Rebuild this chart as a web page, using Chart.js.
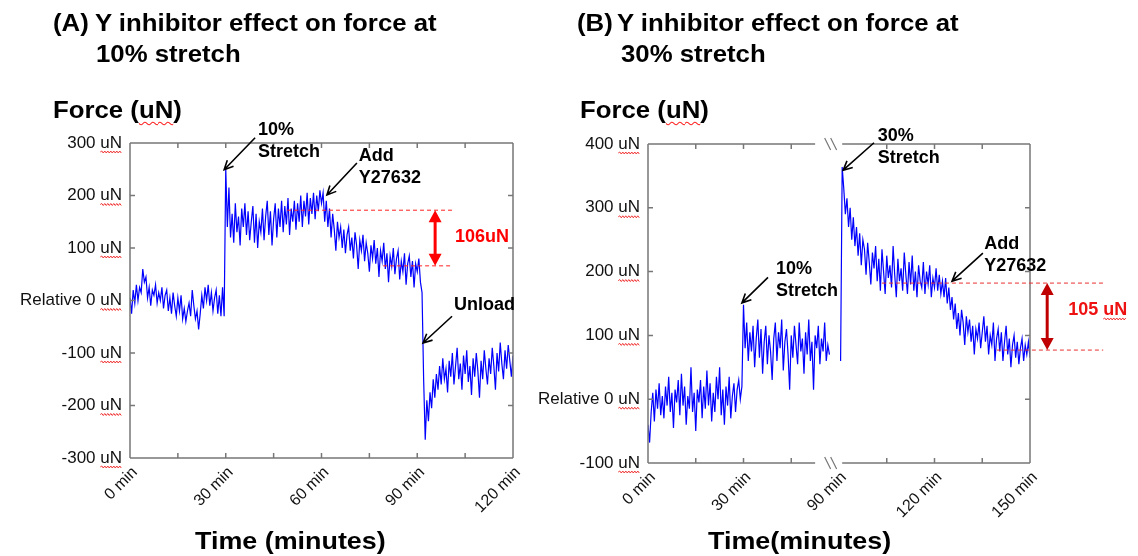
<!DOCTYPE html>
<html>
<head>
<meta charset="utf-8">
<script src="https://cdn.jsdelivr.net/npm/chart.js@4.4.0/dist/chart.umd.min.js"></script>
<style>
  body { margin: 0; background: #fff; }
  #page { position: relative; width: 1138px; height: 556px; overflow: hidden; font-family: "Liberation Sans", Arial, sans-serif; }
  canvas { position: absolute; top: 0; }
  .lbl { position: absolute; font-weight: bold; white-space: nowrap; line-height: 31px; color: #000; transform-origin: 0 0; transform: scaleX(1.12); }
  .head { font-size: 23px; }
  .axis { font-size: 24px; }
  .sp { text-decoration: underline wavy #f22; text-decoration-thickness: 1px; text-underline-offset: 3px; }
</style>
</head>
<body>
<div id="page">
  <canvas id="chartA" width="560" height="556" style="left:0"></canvas>
  <canvas id="chartB" width="618" height="556" style="left:520px"></canvas>

  <div class="lbl head" style="left:53px;top:8px">(A)</div>
  <div class="lbl head" style="left:95px;top:8px">Y inhibitor effect on force at</div>
  <div class="lbl head" style="left:96px;top:39px">10% stretch</div>
  <div class="lbl head" style="left:53px;top:95px">Force (<span class="sp">uN</span>)</div>
  <div class="lbl axis" style="left:195px;top:525px">Time (minutes)</div>

  <div class="lbl head" style="left:577px;top:8px">(B)</div>
  <div class="lbl head" style="left:617px;top:8px">Y inhibitor effect on force at</div>
  <div class="lbl head" style="left:621px;top:39px">30% stretch</div>
  <div class="lbl head" style="left:580px;top:95px">Force (<span class="sp">uN</span>)</div>
  <div class="lbl axis" style="left:708px;top:525px">Time(minutes)</div>
</div>

<script>
// recordings are sampled every half minute
const SAMPLE_MIN = 0.5;

// 10% stretch run, 0 - 120 min (uN)
const forceA = [
  5, -25, 20, -5, 30, 0, 25, 15, 60, 35,
  45, 5, 25, -10, 20, 10, 30, -5, 15, 0,
  25, -15, 10, 20, -20, 5, -25, 15, -10, -30,
  5, -20, 10, -35, -15, -40, -20, -5, -30, 20,
  -10, -35, -20, -55, -25, 10, -15, 25, 0, 30,
  -10, 15, -20, 5, 20, -25, 10, -30, 25, -30,
  252, 140, 215, 120, 165, 110, 185, 130, 160, 105,
  175, 140, 185, 125, 170, 115, 150, 180, 110, 165,
  100, 150, 130, 175, 115, 160, 190, 125, 170, 105,
  155, 185, 120, 175, 140, 190, 130, 180, 145, 195,
  125, 175, 150, 190, 135, 185, 150, 200, 140, 190,
  160, 205, 145, 195, 165, 205, 155, 200, 170, 210,
  185, 205, 150, 190, 140, 175, 120, 165, 135, 95,
  150, 120, 140, 100, 135, 90, 125, 140, 95, 120,
  80, 130, 105, 60, 115, 95, 125, 75, 110, 90,
  55, 105, 80, 115, 70, 100, 45, 95, 75, 110,
  60, 90, 35, 85, 65, 100, 50, 80, 95, 40,
  75, 55, 90, 30, 70, 85, 45, 75, 25, 70,
  55, 80, 35, 15, -150, -265, -190, -230, -175, -205,
  -150, -185, -140, -170, -125, -160, -110, -150, -130, -175,
  -115, -145, -100, -160, -125, -90, -150, -120, -170, -105,
  -140, -95, -155, -125, -180, -110, -145, -100, -135, -185,
  -115, -150, -95, -130, -160, -110, -140, -90, -125, -170,
  -100, -135, -80, -120, -150, -95, -130, -85, -115, -145,
  -105
];

// 30% stretch run, first part 0 - 57 min (uN)
const forceB1 = [
  -40, -68, -20, 10, -35, 15, -15, 25, -25, 5,
  -30, 20, -10, 35, -20, 10, -45, 15, -5, 30,
  -25, 40, -10, 20, -40, 5, -15, 50, -20, 10,
  -50, 15, -5, 30, -30, 20, -15, 45, -10, 25,
  -35, 10, -20, 35, 0, 50, -25, 15, -40, 20,
  -10, 35, -30, 5, 25, -20, 15, 30, 0, 20,
  148, 80, 120, 60, 105, 75, 115, 50, 95, 125,
  65, 110, 40, 90, 115, 55, 100, 75, 30, 95,
  120, 60, 105, 80, 125, 45, 90, 110, 70, 15,
  100, 65, 115, 85, 55, 120, 75, 95, 40, 105,
  70, 125, 60, 90, 15, 100, 80, 115, 55, 95,
  75, 120, 60, 85, 70
];

// second part, 90.5 - 150 min (uN)
const startB2 = 90.5;
const forceB2 = [
  60,
  364, 330, 290, 315, 270, 300, 250, 285, 240, 270,
  225, 260, 210, 250, 235, 195, 245, 215, 180, 230,
  205, 240, 185, 220, 170, 235, 200, 165, 225, 190,
  210, 175, 240, 195, 160, 220, 185, 205, 170, 230,
  195, 165, 215, 180, 225, 170, 200, 160, 210, 185,
  175, 215, 165, 200, 180, 210, 160, 190, 175, 205,
  170, 195, 165, 185, 160, 190, 150, 175, 140, 160,
  125, 150, 110, 135, 100, 140, 120, 85, 130, 105,
  125, 90, 115, 70, 110, 95, 120, 80, 105, 130,
  90, 115, 70, 100, 85, 120, 60, 95, 110, 75,
  105, 60, 90, 115, 70, 95, 50, 85, 100, 65,
  90, 55, 80, 95, 60, 85, 70, 90, 65
];

// panel B axis leaves out 57-90 min, so later times sit 30 min to the left
const BREAK_SHIFT = 30;

const xLabelsA = { 0: '0 min', 30: '30 min', 60: '60 min', 90: '90 min', 120: '120 min' };
const xLabelsB = { 0: '0 min', 30: '30 min', 60: '90 min', 90: '120 min', 120: '150 min' };

// force drop after Y27632
const dropA = { top: 172, bottom: 66 };   // 106 uN
const dropB = { top: 182, bottom: 77 };   // 105 uN

const FONT = "'Liberation Sans', Arial, sans-serif";
Chart.defaults.font.family = FONT;

function toPoints(values, start, shift) {
  return values.map((v, i) => ({ x: start + i * SAMPLE_MIN - shift, y: v }));
}

function squiggle(ctx, x0, x1, yy) {
  ctx.save();
  ctx.strokeStyle = '#f03030';
  ctx.lineWidth = 1;
  ctx.beginPath();
  ctx.moveTo(x0, yy);
  let up = true;
  for (let xx = x0 + 1.5; xx <= x1; xx += 1.5) {
    ctx.lineTo(xx, yy + (up ? -1 : 1));
    up = !up;
  }
  ctx.stroke();
  ctx.restore();
}

// box round the plot with inward ticks, broken where the time axis jumps
const frameBox = {
  id: 'frameBox',
  afterDraw(chart, args, opts) {
    const { ctx, chartArea: a, scales: { x, y } } = chart;
    const skip = opts.skipX || [];
    ctx.save();
    ctx.strokeStyle = '#777';
    ctx.lineWidth = 1.5;
    ctx.beginPath();
    ctx.moveTo(a.left, a.top); ctx.lineTo(a.left, a.bottom);
    ctx.moveTo(a.right, a.top); ctx.lineTo(a.right, a.bottom);
    let b0, b1;
    if (opts.breakAt) {
      b0 = x.getPixelForValue(opts.breakAt[0]);
      b1 = x.getPixelForValue(opts.breakAt[1]);
    }
    for (const yy of [a.top, a.bottom]) {
      if (opts.breakAt) {
        ctx.moveTo(a.left, yy); ctx.lineTo(b0, yy);
        ctx.moveTo(b1, yy); ctx.lineTo(a.right, yy);
      } else {
        ctx.moveTo(a.left, yy); ctx.lineTo(a.right, yy);
      }
    }
    x.ticks.forEach(t => {
      if (t.value <= x.min || t.value >= x.max || skip.includes(t.value)) return;
      const xx = x.getPixelForValue(t.value);
      ctx.moveTo(xx, a.bottom); ctx.lineTo(xx, a.bottom - 5);
      ctx.moveTo(xx, a.top); ctx.lineTo(xx, a.top + 5);
    });
    y.ticks.forEach(t => {
      if (t.value <= y.min || t.value >= y.max) return;
      const yy = y.getPixelForValue(t.value);
      ctx.moveTo(a.left, yy); ctx.lineTo(a.left + 5, yy);
      ctx.moveTo(a.right, yy); ctx.lineTo(a.right - 5, yy);
    });
    ctx.stroke();

    if (opts.breakAt) {
      const cx = (b0 + b1) / 2 + 2;
      ctx.lineWidth = 1.2;
      ctx.beginPath();
      for (const yy of [a.top, a.bottom]) {
        for (const k of [-3, 3]) {
          ctx.moveTo(cx + k - 3, yy - 6);
          ctx.lineTo(cx + k + 3, yy + 6);
        }
      }
      ctx.stroke();
    }
    ctx.restore();
  }
};

// red spell-check waves under the "uN" of the force ticks
const unitMarks = {
  id: 'unitMarks',
  afterDraw(chart) {
    const { ctx, scales: { y } } = chart;
    const tickOpts = y.options.ticks;
    ctx.save();
    ctx.font = Chart.helpers.toFont(tickOpts.font).string;
    const w = ctx.measureText('uN').width;
    const xr = y.right - tickOpts.padding;
    y.ticks.forEach(t => {
      squiggle(ctx, xr - w, xr, y.getPixelForValue(t.value) + 9);
    });
    ctx.restore();
  }
};

// arrows, text and the dashed drop markers
const notes = {
  id: 'notes',
  afterDraw(chart, args, opts) {
    const { ctx, scales: { x, y } } = chart;
    const px = v => x.getPixelForValue(v);
    const py = v => y.getPixelForValue(v);
    ctx.save();
    for (const n of opts.items || []) {
      if (n.kind === 'text') {
        ctx.font = `bold ${n.size || 18}px ${FONT}`;
        ctx.fillStyle = n.color || '#000';
        ctx.textAlign = 'left';
        ctx.textBaseline = 'alphabetic';
        n.lines.forEach((line, i) => {
          const tx = px(n.at[0]), ty = py(n.at[1]) + i * 22;
          ctx.fillText(line, tx, ty);
          if (n.wave && line.endsWith(n.wave)) {
            const full = ctx.measureText(line).width;
            const part = ctx.measureText(n.wave).width;
            squiggle(ctx, tx + full - part, tx + full, ty + 4);
          }
        });
      } else if (n.kind === 'arrow') {
        const x0 = px(n.from[0]), y0 = py(n.from[1]);
        const x1 = px(n.to[0]), y1 = py(n.to[1]);
        const ang = Math.atan2(y1 - y0, x1 - x0);
        ctx.strokeStyle = '#000';
        ctx.lineWidth = 1.6;
        ctx.beginPath();
        ctx.moveTo(x0, y0); ctx.lineTo(x1, y1);
        ctx.moveTo(x1 - 10 * Math.cos(ang - 0.45), y1 - 10 * Math.sin(ang - 0.45));
        ctx.lineTo(x1, y1);
        ctx.lineTo(x1 - 10 * Math.cos(ang + 0.45), y1 - 10 * Math.sin(ang + 0.45));
        ctx.stroke();
      } else if (n.kind === 'dash') {
        ctx.strokeStyle = n.color;
        ctx.lineWidth = 1;
        ctx.setLineDash([4, 3]);
        ctx.beginPath();
        ctx.moveTo(px(n.from), py(n.y)); ctx.lineTo(px(n.to), py(n.y));
        ctx.stroke();
        ctx.setLineDash([]);
      } else if (n.kind === 'span') {
        const xx = px(n.x), ya = py(n.y0), yb = py(n.y1);
        const head = 12, half = 6.5;
        ctx.strokeStyle = n.color;
        ctx.fillStyle = n.color;
        ctx.lineWidth = 3;
        ctx.beginPath();
        ctx.moveTo(xx, ya + head - 1); ctx.lineTo(xx, yb - head + 1);
        ctx.stroke();
        ctx.beginPath();
        ctx.moveTo(xx, ya); ctx.lineTo(xx - half, ya + head); ctx.lineTo(xx + half, ya + head);
        ctx.closePath();
        ctx.moveTo(xx, yb); ctx.lineTo(xx - half, yb - head); ctx.lineTo(xx + half, yb - head);
        ctx.closePath();
        ctx.fill();
      }
    }
    ctx.restore();
  }
};

Chart.register(frameBox, unitMarks, notes);

function buildChart(id, cfg) {
  return new Chart(document.getElementById(id), {
    type: 'line',
    data: {
      datasets: cfg.series.map(data => ({
        data,
        borderColor: '#0000ff',
        borderWidth: 1.2,
        pointRadius: 0,
        tension: 0
      }))
    },
    options: {
      responsive: false,
      animation: false,
      devicePixelRatio: 1,
      layout: { padding: { top: cfg.top, right: cfg.right, bottom: 0, left: 0 } },
      plugins: {
        legend: { display: false },
        tooltip: { enabled: false },
        frameBox: { breakAt: cfg.breakAt, skipX: cfg.skipX },
        notes: { items: cfg.notes }
      },
      scales: {
        x: {
          type: 'linear',
          min: 0,
          max: 120,
          afterFit: s => { s.height = cfg.xHeight; },
          grid: { display: false, drawTicks: false },
          border: { display: false },
          ticks: {
            stepSize: 15,
            autoSkip: false,
            minRotation: 45,
            maxRotation: 45,
            padding: 5,
            labelOffset: 5,
            color: '#111',
            font: { size: 16 },
            callback: v => cfg.xLabels[v] || ''
          }
        },
        y: {
          min: cfg.yMin,
          max: cfg.yMax,
          afterFit: s => { s.width = cfg.yWidth; },
          grid: { display: false, drawTicks: false },
          border: { display: false },
          ticks: {
            stepSize: 100,
            padding: 8,
            color: '#111',
            font: { size: 17 },
            callback: v => (v === 0 ? 'Relative 0 uN' : v + ' uN')
          }
        }
      }
    }
  });
}

buildChart('chartA', {
  series: [toPoints(forceA, 0, 0)],
  top: 143, right: 47, xHeight: 98, yWidth: 130,
  yMin: -300, yMax: 300,
  xLabels: xLabelsA,
  notes: [
    { kind: 'dash', y: dropA.top, from: 49.2, to: 100.9, color: '#ff2020' },
    { kind: 'dash', y: dropA.bottom, from: 79.3, to: 100.9, color: '#ff2020' },
    { kind: 'span', x: 95.6, y0: dropA.top, y1: dropA.bottom, color: '#ff0000' },
    { kind: 'text', at: [101.8, 111], lines: [(dropA.top - dropA.bottom) + 'uN'], color: '#ff0000' },
    { kind: 'text', at: [40.1, 315], lines: ['10%', 'Stretch'] },
    { kind: 'arrow', from: [39.2, 310], to: [29.5, 249] },
    { kind: 'text', at: [71.7, 266], lines: ['Add', 'Y27632'] },
    { kind: 'arrow', from: [71.1, 262], to: [61.7, 201] },
    { kind: 'text', at: [101.5, -18], lines: ['Unload'] },
    { kind: 'arrow', from: [100.9, -30], to: [91.8, -81] }
  ]
});

buildChart('chartB', {
  series: [toPoints(forceB1, 0, 0), toPoints(forceB2, startB2, BREAK_SHIFT)],
  top: 144, right: 108, xHeight: 93, yWidth: 128,
  yMin: -100, yMax: 400,
  xLabels: xLabelsB,
  breakAt: [52.5, 61],
  skipX: [60],
  notes: [
    { kind: 'dash', y: dropB.top, from: 73.5, to: 143, color: '#e83030' },
    { kind: 'dash', y: dropB.bottom, from: 109.6, to: 143, color: '#e83030' },
    { kind: 'span', x: 125.4, y0: dropB.top, y1: dropB.bottom, color: '#c00000' },
    { kind: 'text', at: [132, 132], lines: [(dropB.top - dropB.bottom) + ' uN'], color: '#ee1111', wave: 'uN' },
    { kind: 'text', at: [40.2, 196], lines: ['10%', 'Stretch'] },
    { kind: 'arrow', from: [37.7, 191], to: [29.5, 151] },
    { kind: 'text', at: [72.2, 405], lines: ['30%', 'Stretch'] },
    { kind: 'arrow', from: [71, 402], to: [61.3, 359] },
    { kind: 'text', at: [105.6, 235], lines: ['Add', 'Y27632'] },
    { kind: 'arrow', from: [105.2, 229], to: [95.5, 185] }
  ]
});
</script>
</body>
</html>
